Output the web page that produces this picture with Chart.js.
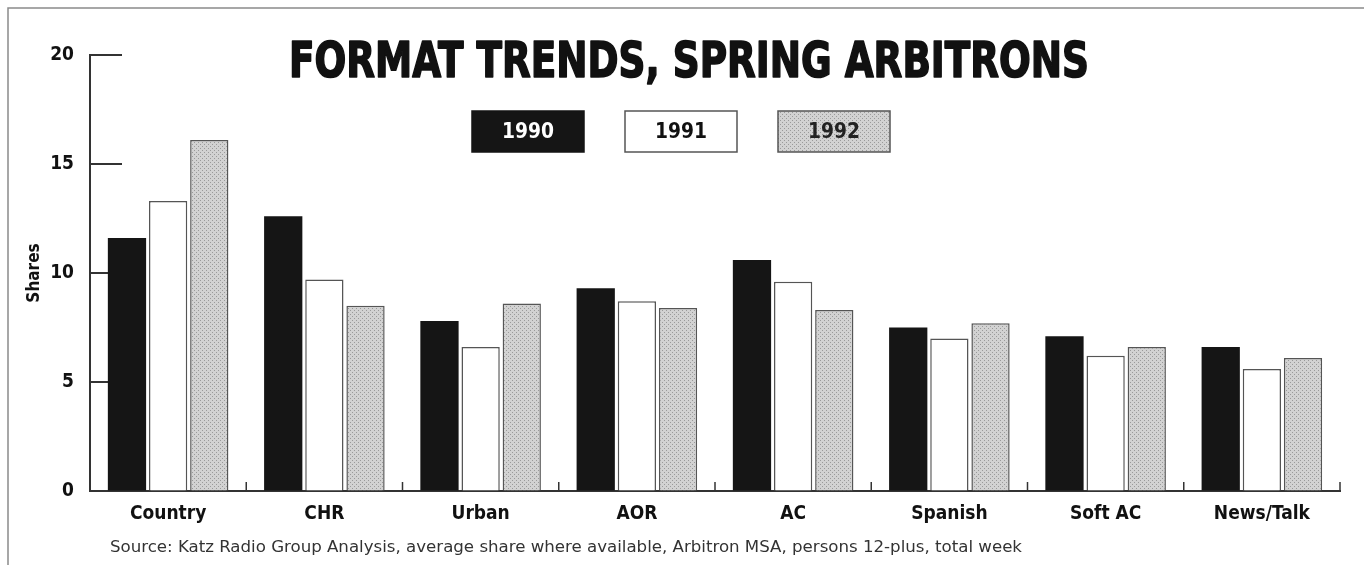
<!DOCTYPE html>
<html>
<head>
<meta charset="utf-8">
<script src="https://cdn.jsdelivr.net/npm/chart.js@4.4.0/dist/chart.umd.min.js"></script>
<style>
html, body { margin: 0; padding: 0; background: #fff; }
#wrap { width: 1364px; height: 565px; }
</style>
</head>
<body>
<div id="wrap"><canvas id="chart" width="1364" height="565"></canvas></div>
<script>
const formats = ["Country", "CHR", "Urban", "AOR", "AC", "Spanish", "Soft AC", "News/Talk"];
const years = ["1990", "1991", "1992"];
const shares1990 = [11.6, 12.6, 7.8, 9.3, 10.6, 7.5, 7.1, 6.6];
const shares1991 = [13.3, 9.7, 6.6, 8.7, 9.6, 7.0, 6.2, 5.6];
const shares1992 = [16.1, 8.5, 8.6, 8.4, 8.3, 7.7, 6.6, 6.1];
const yTicks = [0, 5, 10, 15, 20];
const titleText = "FORMAT TRENDS, SPRING ARBITRONS";
const sourceText = "Source: Katz Radio Group Analysis, average share where available, Arbitron MSA, persons 12-plus, total week";

const NARROW = '"Liberation Sans Narrow", "DejaVu Sans Condensed", "Liberation Sans", sans-serif';

// light grey stipple like the print screen
function stipple() {
    const c = document.createElement("canvas");
    c.width = 4; c.height = 4;
    const g = c.getContext("2d");
    g.fillStyle = "#d2d2d2";
    g.fillRect(0, 0, 4, 4);
    g.fillStyle = "#9a9a9a";
    g.fillRect(0, 0, 1, 1);
    g.fillRect(2, 2, 1, 1);
    return g.createPattern(c, "repeat");
}
const grey = stipple();

const fills = ["#151515", "#ffffff", grey];
const borders = ["#151515", "#555555", "#555555"];
const textColours = ["#ffffff", "#111111", "#222222"];

// draw text squeezed/stretched to a given width
function fitText(ctx, text, x, y, width, align, thicken) {
    const w = ctx.measureText(text).width;
    const s = width / w;
    ctx.save();
    ctx.translate(x, y);
    ctx.scale(s, 1);
    ctx.textAlign = align;
    ctx.fillText(text, 0, 0);
    if (thicken) {
        ctx.strokeStyle = ctx.fillStyle;
        ctx.lineWidth = thicken;
        ctx.lineJoin = "round";
        ctx.strokeText(text, 0, 0);
    }
    ctx.restore();
}

const decor = {
    id: "decor",
    beforeDatasetsDraw(chart) {
        const ctx = chart.ctx;
        const y = chart.scales.y;
        const x = chart.scales.x;
        const area = chart.chartArea;
        const step = x.getPixelForValue(1) - x.getPixelForValue(0);
        ctx.save();
        ctx.strokeStyle = "#333";
        ctx.lineWidth = 2;
        yTicks.forEach(v => {
            const py = y.getPixelForValue(v);
            ctx.beginPath();
            ctx.moveTo(area.left, py);
            ctx.lineTo(area.left + 32, py);
            ctx.stroke();
        });
        ctx.lineWidth = 1.5;
        formats.forEach((f, i) => {
            const px = x.getPixelForValue(i) + step / 2;
            ctx.beginPath();
            ctx.moveTo(px, area.bottom);
            ctx.lineTo(px, area.bottom - 9);
            ctx.stroke();
        });
        ctx.restore();
    },
    afterDraw(chart) {
        const ctx = chart.ctx;
        ctx.save();

        // frame
        ctx.strokeStyle = "#8a8a8a";
        ctx.lineWidth = 1.5;
        ctx.beginPath();
        ctx.moveTo(8, 565);
        ctx.lineTo(8, 8);
        ctx.lineTo(1364, 8);
        ctx.stroke();

        // title
        ctx.fillStyle = "#111";
        ctx.font = "bold 49px " + NARROW;
        ctx.textBaseline = "alphabetic";
        fitText(ctx, titleText, 689, 77, 800, "center", 1.6);

        // legend boxes with the year inside
        years.forEach((yr, i) => {
            const bx = 472 + i * 153;
            const by = 111;
            ctx.fillStyle = fills[i];
            ctx.fillRect(bx, by, 112, 41);
            ctx.strokeStyle = borders[i];
            ctx.lineWidth = 1.5;
            ctx.strokeRect(bx, by, 112, 41);
            ctx.fillStyle = textColours[i];
            ctx.font = "bold 22px " + NARROW;
            ctx.textBaseline = "middle";
            fitText(ctx, yr, bx + 56, by + 21, 52, "center");
        });

        // source line
        ctx.fillStyle = "#333";
        ctx.font = "16px " + NARROW;
        ctx.textBaseline = "middle";
        fitText(ctx, sourceText, 110, 548, 912, "left");

        ctx.restore();
    }
};

new Chart(document.getElementById("chart"), {
    type: "bar",
    data: {
        labels: formats,
        datasets: [shares1990, shares1991, shares1992].map((vals, i) => ({
            label: years[i],
            data: vals,
            backgroundColor: fills[i],
            borderColor: borders[i],
            borderWidth: i === 0 ? 0 : 1.5,
            categoryPercentage: 0.79,
            barPercentage: 0.93
        }))
    },
    options: {
        responsive: false,
        animation: false,
        devicePixelRatio: 1,
        layout: { padding: { top: 55, right: 24, left: 0, bottom: 0 } },
        plugins: {
            legend: { display: false },
            title: { display: false },
            tooltip: { enabled: false }
        },
        scales: {
            x: {
                grid: { display: true, drawOnChartArea: false, drawTicks: false },
                border: { color: "#333", width: 2 },
                ticks: {
                    color: "#111",
                    padding: 12,
                    font: { family: NARROW, size: 19, weight: "bold" }
                },
                afterFit(scale) { scale.height = 74; }
            },
            y: {
                min: 0,
                max: 20,
                grid: { display: true, drawOnChartArea: false, drawTicks: false },
                border: { color: "#333", width: 2 },
                afterBuildTicks(scale) { scale.ticks = yTicks.map(v => ({ value: v })); },
                ticks: {
                    color: "#111",
                    padding: 16,
                    font: { family: NARROW, size: 19, weight: "bold" }
                },
                title: {
                    display: true,
                    text: "Shares",
                    color: "#111",
                    padding: { top: 24, bottom: 0 },
                    font: { family: NARROW, size: 17, weight: "bold" }
                },
                afterFit(scale) { scale.width = 90; }
            }
        }
    },
    plugins: [decor]
});
</script>
</body>
</html>
